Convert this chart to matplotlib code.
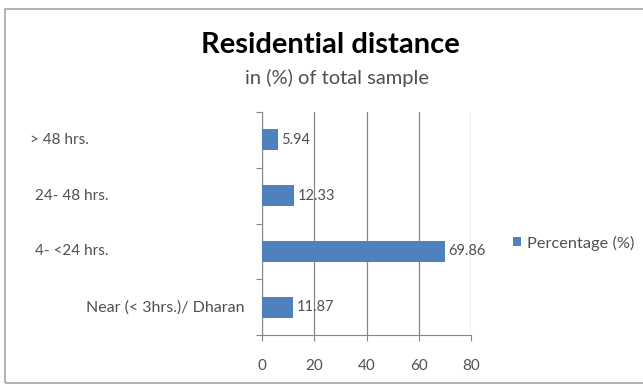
import matplotlib.pyplot as plt
from matplotlib.patches import Rectangle
from matplotlib.transforms import blended_transform_factory

# Residential distance of respondents, % of total sample
categories = ['Near (< 3hrs.)/ Dharan', '4- <24 hrs.', '24- 48 hrs.', '> 48 hrs.']
percentages = [11.87, 69.86, 12.33, 5.94]
x_ticks = [0, 20, 40, 60, 80]

plt.rcParams['font.family'] = ['Lato', 'DejaVu Sans']
bar_color = '#4F81BD'
text_color = '#505050'

fig = plt.figure(figsize=(6.43, 3.87), dpi=100)
fig.patch.set_facecolor('white')

# outer chart frame
fig.patches.append(Rectangle((5 / 643, 4 / 387), 640 / 643, 374 / 387,
                             transform=fig.transFigure, fill=False,
                             edgecolor='#a6a6a6', linewidth=1.2))

ax = fig.add_axes([262 / 643, 1 - 335 / 387, 209 / 643, 223 / 387])
y = range(len(categories))
bars = ax.barh(y, percentages, height=0.38, color=bar_color, label='Percentage (%)', zorder=3)

for yi, v in zip(y, percentages):
    ax.text(v + 1.5, yi, f'{v:.2f}', va='center', ha='left', fontsize=10.5, color=text_color)

ax.set_xlim(0, 80)
ax.set_ylim(-0.5, len(categories) - 0.5)
ax.set_xticks(x_ticks)
ax.set_yticks([i - 0.5 for i in range(len(categories) + 1)])
ax.set_yticklabels([])
ax.tick_params(axis='y', length=4, color='#868686')
ax.tick_params(axis='x', length=4, color='#868686', labelsize=11, labelcolor=text_color, pad=13)
ax.grid(axis='x', color='#868686', linewidth=0.9, zorder=0)
for side in ('top', 'right'):
    ax.spines[side].set_visible(False)
for side in ('left', 'bottom'):
    ax.spines[side].set_color('#868686')

# category labels: short ones wrap-aligned on the left, the long one right-aligned
lab = blended_transform_factory(fig.transFigure, ax.transData)
for yi, name in zip(y, categories):
    if name.startswith('Near'):
        fig.text(245 / 643, yi, name, transform=lab, ha='right', va='center',
                 fontsize=11.5, color=text_color)
    else:
        x0 = 30 if name.startswith('>') else 35
        fig.text(x0 / 643, yi, name, transform=lab, ha='left', va='center',
                 fontsize=11, color=text_color)

fig.text(330 / 643, 1 - 45 / 387, 'Residential distance', ha='center', va='center',
         fontsize=21, fontweight='bold', color='black')
fig.text(337 / 643, 1 - 78 / 387, 'in (%) of total sample', ha='center', va='center',
         fontsize=14.5, color=text_color)

fig.legend(handles=[bars], labels=['Percentage (%)'], loc='center left',
           bbox_to_anchor=(498 / 643, 1 - 243 / 387), frameon=False,
           fontsize=11.8, handlelength=0.5, handleheight=0.5, handletextpad=0.35,
           labelcolor=text_color)

fig.savefig('out.png', dpi=100)
